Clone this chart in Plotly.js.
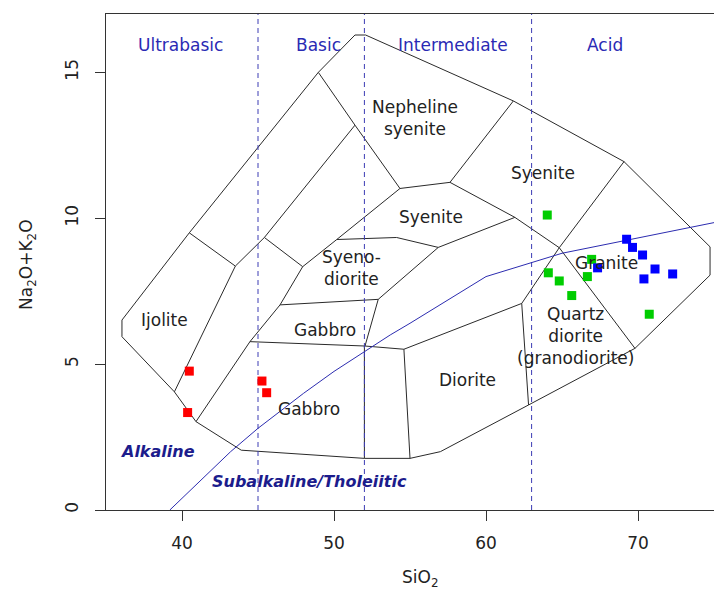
<!DOCTYPE html>
<html>
<head>
<meta charset="utf-8">
<script src="https://cdn.plot.ly/plotly-3.0.1.min.js"></script>
<style>html,body{margin:0;padding:0;background:#fff}#chart{width:714px;height:591px}</style>
</head>
<body>
<div id="chart"></div>
<script>
// ---- sample data (SiO2 vs Na2O+K2O) ----
const redSiO2   = [40.48, 40.37, 45.26, 45.57];
const redAlk    = [4.76, 3.34, 4.42, 4.02];
const greenSiO2 = [64.03, 66.95, 64.1, 64.82, 66.67, 65.64, 70.74];
const greenAlk  = [10.11, 8.59, 8.13, 7.85, 8.0, 7.35, 6.71];
const blueSiO2  = [69.25, 69.64, 70.3, 67.34, 71.12, 72.28, 70.39];
const blueAlk   = [9.28, 9.0, 8.74, 8.3, 8.26, 8.09, 7.92];

// ---- classification field boundaries (polylines) ----
const outerX = [36.05, 40.48, 48.97, 51.38, 52.08, 61.8, 69.08, 73.42, 74.74, 74.74, 69.8, 62.8, 57.0, 55.0, 52.0, 43.9, 40.92, 39.5, 36.05, 36.05];
const outerY = [6.51, 9.5, 15.0, 16.28, 16.28, 14.02, 11.94, 9.71, 9.02, 8.05, 5.54, 3.6, 2.0, 1.77, 1.77, 2.05, 3.03, 4.05, 5.94, 6.51];
const innerLines = [
  [[40.48, 43.51, 39.5], [9.5, 8.36, 4.05]],
  [[48.97, 51.38, 54.34, 57.63, 61.8], [15.0, 13.19, 11.02, 11.23, 14.02]],
  [[51.38, 45.42, 43.51], [13.19, 9.34, 8.36]],
  [[45.42, 47.94, 50.18, 54.34], [9.34, 8.34, 9.27, 11.02]],
  [[47.94, 46.45, 44.47, 40.92], [8.34, 7.03, 5.77, 3.03]],
  [[46.45, 52.91, 52.04], [7.03, 7.22, 5.62]],
  [[52.91, 56.86, 61.9], [7.22, 9.0, 10.03]],
  [[50.18, 54.12, 56.86], [9.27, 9.34, 9.0]],
  [[57.63, 61.9, 64.82, 69.08], [11.23, 10.03, 8.99, 11.94]],
  [[44.47, 52.04, 54.6, 62.35, 64.82, 69.8], [5.77, 5.62, 5.51, 7.08, 8.99, 5.54]],
  [[54.6, 55.0], [5.51, 1.77]],
  [[62.35, 62.8], [7.08, 3.6]],
  [[52.0, 52.0], [5.62, 1.77]]
];
// Irvine & Baragar alkaline / subalkaline divide
const ibX = [39.2, 40, 43.2, 45, 48, 50, 53.7, 55, 60, 65, 75];
const ibY = [0, 0.4, 2, 2.8, 4, 4.75, 6, 6.4, 8, 8.8, 9.85];
// silica-saturation divisions
const divX = [45, 52, 63];
const groupNames = ['Ultrabasic', 'Basic', 'Intermediate', 'Acid'];
const groupX = [39.93, 48.95, 57.8, 67.8];

// field names
const fieldNames = ['Nepheline<br>syenite', 'Syenite', 'Syenite', 'Syeno-<br>diorite', 'Ijolite', 'Gabbro', 'Granite', 'Quartz<br>diorite<br>(granodiorite)', 'Diorite', 'Gabbro'];
const fieldX = [55.33, 63.75, 56.38, 51.18, 38.88, 49.4, 67.9, 65.86, 58.75, 48.36];
const fieldY = [13.43, 11.55, 10.04, 8.3, 6.51, 6.17, 8.47, 5.96, 4.46, 3.46];

const FONT = 'DejaVu Sans, Liberation Sans, Arial, sans-serif';
const traces = [];

// outer + inner boundaries as one trace with gaps
let bx = outerX.slice(), by = outerY.slice();
innerLines.forEach(l => { bx.push(null); by.push(null); bx = bx.concat(l[0]); by = by.concat(l[1]); });
traces.push({x: bx, y: by, mode: 'lines', line: {color: '#2a2a2a', width: 1}, hoverinfo: 'skip', showlegend: false, connectgaps: false});

// dashed divisions
let dx = [], dy = [];
divX.forEach(v => { dx.push(v, v, null); dy.push(0, 17, null); });
traces.push({x: dx, y: dy, mode: 'lines', line: {color: '#3c3cb4', width: 1, dash: '5px,4px'}, hoverinfo: 'skip', showlegend: false});

// Irvine-Baragar line
traces.push({x: ibX, y: ibY, mode: 'lines', line: {color: '#2c2cb0', width: 1}, hoverinfo: 'skip', showlegend: false});

// samples
const mk = (c) => ({symbol: 'square', size: 9, color: c, line: {width: 0}});
traces.push({x: redSiO2, y: redAlk, mode: 'markers', marker: mk('#ff0000'), showlegend: false});
traces.push({x: greenSiO2, y: greenAlk, mode: 'markers', marker: mk('#00cd00'), showlegend: false});
traces.push({x: blueSiO2, y: blueAlk, mode: 'markers', marker: mk('#0000ff'), showlegend: false});

const ann = [];
groupNames.forEach((g, i) => ann.push({x: groupX[i], y: 15.94, xref: 'x', yref: 'y', text: g, showarrow: false,
  font: {family: FONT, size: 17, color: '#2a2ab4'}}));
fieldNames.forEach((f, i) => ann.push({x: fieldX[i], y: fieldY[i], xref: 'x', yref: 'y', text: f, showarrow: false,
  font: {family: FONT, size: 17, color: '#222'}}));
ann.push({x: 38.42, y: 1.99, xref: 'x', yref: 'y', text: '<b><i>Alkaline</i></b>', showarrow: false,
  font: {family: FONT, size: 16, color: '#1c1c8c'}});
ann.push({x: 48.42, y: 0.99, xref: 'x', yref: 'y', text: '<b><i>Subalkaline/Tholeiitic</i></b>', showarrow: false,
  font: {family: FONT, size: 16, color: '#1c1c8c'}});
// axis titles
ann.push({x: 55.66, y: 0, xref: 'x', yref: 'paper', yshift: -68, yanchor: 'middle', text: 'SiO<sub>2</sub>', showarrow: false,
  font: {family: FONT, size: 17, color: '#222'}});
ann.push({x: 0, y: 8.4, xref: 'paper', yref: 'y', xshift: -78, xanchor: 'center', text: 'Na<sub>2</sub>O+K<sub>2</sub>O', textangle: -90, showarrow: false,
  font: {family: FONT, size: 17, color: '#222'}});

const layout = {
  width: 714, height: 591,
  margin: {l: 106, r: 0, t: 14, b: 81, pad: 0},
  paper_bgcolor: '#fff', plot_bgcolor: '#fff',
  showlegend: false,
  xaxis: {range: [35, 75], tickvals: [40, 50, 60, 70], showgrid: false, zeroline: false,
    showline: true, mirror: true, linecolor: '#333', linewidth: 1,
    ticks: 'outside', ticklen: 10, tickcolor: '#333', ticklabelstandoff: 8,
    tickfont: {family: FONT, size: 17, color: '#222'}},
  yaxis: {range: [0, 17], tickvals: [0, 5, 10, 15], showgrid: false, zeroline: false,
    showline: true, mirror: false, linecolor: '#333', linewidth: 1,
    ticks: 'outside', ticklen: 10, tickcolor: '#333', tickangle: -90, ticklabelstandoff: 10,
    tickfont: {family: FONT, size: 17, color: '#222'}},
  annotations: ann
};
Plotly.newPlot('chart', traces, layout, {staticPlot: true, displayModeBar: false});
</script>
</body>
</html>
